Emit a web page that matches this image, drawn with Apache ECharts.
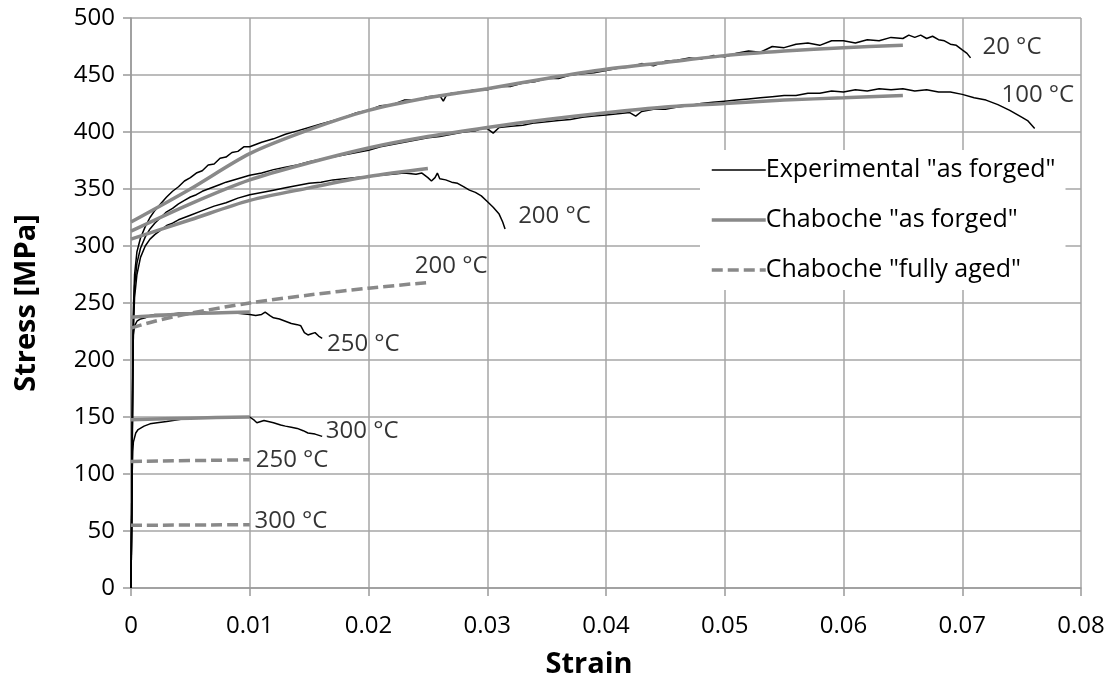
<!DOCTYPE html>
<html>
<head>
<meta charset="utf-8">
<script src="https://cdn.jsdelivr.net/npm/echarts@6/dist/echarts.min.js"></script>
<style>
html,body{margin:0;padding:0;background:#fff;}
#chart{width:1112px;height:692px;}
</style>
</head>
<body>
<div id="chart"></div>
<script>
// ---------- data (strain, stress MPa) ----------
const xTickLabels = ['0','0.01','0.02','0.03','0.04','0.05','0.06','0.07','0.08'];
const yTickLabels = ['0','50','100','150','200','250','300','350','400','450','500'];

const exp20 = [[0,0],[0.00005,60],[0.0001,130],[0.00015,200],[0.0002,245],[0.0003,275],[0.0005,295],[0.0008,307],[0.0012,317],[0.0016,325],[0.002,331],[0.0025,337],[0.003,343],[0.0035,348],[0.004,352],[0.0045,357],[0.005,360],[0.0055,364],[0.006,366],[0.0065,371],[0.007,372],[0.0075,377],[0.008,378],[0.0085,382],[0.009,383],[0.0095,387],[0.01,387],[0.011,391],[0.012,394],[0.013,398],[0.014,401],[0.015,404],[0.016,407],[0.017,410],[0.018,413],[0.019,417],[0.02,419],[0.021,423],[0.022,424],[0.023,428],[0.024,428],[0.025,431],[0.026,432],[0.0263,427],[0.0266,433],[0.027,434],[0.028,435],[0.029,437],[0.03,437],[0.031,440],[0.032,440],[0.033,443],[0.034,444],[0.035,447],[0.036,447],[0.037,450],[0.038,451],[0.039,452],[0.04,454],[0.041,456],[0.042,457],[0.043,460],[0.044,458],[0.0445,460],[0.045,462],[0.046,463],[0.047,465],[0.048,464],[0.049,467],[0.05,466],[0.051,469],[0.052,471],[0.053,470],[0.054,475],[0.055,474],[0.056,477],[0.057,478],[0.058,476],[0.059,480],[0.06,480],[0.061,478],[0.062,481],[0.063,480],[0.064,483],[0.065,482],[0.0655,485],[0.066,483],[0.0665,485],[0.067,482],[0.0675,484],[0.068,481],[0.0685,480],[0.069,477],[0.0695,476],[0.07,472],[0.0704,469],[0.0707,465]];
const exp100 = [[0,0],[0.00005,50],[0.0001,120],[0.00015,190],[0.0002,235],[0.0003,265],[0.0005,285],[0.0008,298],[0.0012,308],[0.0016,315],[0.002,320],[0.0025,325],[0.003,330],[0.0035,333],[0.004,337],[0.0045,340],[0.005,343],[0.0055,345],[0.006,348],[0.0065,350],[0.007,352],[0.0075,354],[0.008,356],[0.009,359],[0.01,362],[0.011,364],[0.012,367],[0.013,369],[0.014,371],[0.015,374],[0.016,376],[0.017,378],[0.018,380],[0.019,382],[0.02,384],[0.021,387],[0.022,389],[0.023,391],[0.024,393],[0.025,395],[0.026,396],[0.027,398],[0.028,400],[0.029,401],[0.0295,403],[0.03,403],[0.0305,399],[0.031,404],[0.032,405],[0.033,406],[0.034,408],[0.035,409],[0.036,410],[0.037,411],[0.038,413],[0.039,414],[0.04,415],[0.041,416],[0.042,417],[0.0425,414],[0.043,418],[0.044,420],[0.045,420],[0.046,422],[0.047,423],[0.048,425],[0.049,426],[0.05,427],[0.051,428],[0.052,429],[0.053,430],[0.054,431],[0.055,432],[0.056,432],[0.057,434],[0.058,434],[0.059,436],[0.06,435],[0.061,437],[0.062,436],[0.063,438],[0.064,437],[0.065,438],[0.066,436],[0.067,437],[0.068,435],[0.069,435],[0.07,433],[0.071,430],[0.072,428],[0.073,424],[0.074,419],[0.075,413],[0.0755,410],[0.0761,403]];
const exp200 = [[0,0],[0.00005,50],[0.0001,115],[0.00015,180],[0.0002,225],[0.0003,255],[0.0005,275],[0.0008,290],[0.0012,300],[0.0016,306],[0.002,310],[0.0025,314],[0.003,318],[0.0035,320],[0.004,323],[0.0045,325],[0.005,327],[0.006,331],[0.007,335],[0.008,338],[0.009,342],[0.01,345],[0.011,347],[0.012,349],[0.013,351],[0.014,353],[0.015,355],[0.016,356],[0.017,358],[0.018,359],[0.019,360],[0.02,361],[0.021,362],[0.022,363],[0.023,364],[0.024,363],[0.0245,364],[0.025,360],[0.0253,357],[0.0256,360],[0.0258,364],[0.026,359],[0.0265,358],[0.027,356],[0.0275,355],[0.028,352],[0.0285,349],[0.029,347],[0.0295,344],[0.03,339],[0.0305,334],[0.031,328],[0.0313,321],[0.0315,315]];
const exp250 = [[0,0],[0.00005,60],[0.0001,130],[0.00015,190],[0.0002,222],[0.0003,230],[0.0005,234],[0.0008,236],[0.0012,237],[0.0016,239],[0.002,240],[0.003,240],[0.004,241],[0.005,241],[0.006,242],[0.007,241],[0.008,241],[0.009,241],[0.01,240],[0.0105,239],[0.011,240],[0.0113,242],[0.0117,239],[0.012,237],[0.0125,236],[0.013,234],[0.0135,232],[0.014,231],[0.0143,230],[0.0146,224],[0.0149,222],[0.0152,223],[0.0155,224],[0.0158,221],[0.0161,219]];
const exp300 = [[0,0],[0.00005,50],[0.0001,100],[0.00015,120],[0.0002,128],[0.0004,136],[0.0006,139],[0.0011,142],[0.0016,144],[0.0022,145],[0.003,146],[0.0042,148],[0.005,149],[0.006,149],[0.007,150],[0.008,150],[0.009,150],[0.01,150],[0.0104,147],[0.0106,145],[0.0112,147],[0.012,145],[0.0126,143],[0.013,142],[0.0135,141],[0.014,140],[0.0145,138],[0.0149,136],[0.0155,135],[0.0161,133]];

const chab20 = [[0,321],[0.005,350],[0.01,381],[0.015,402],[0.02,419],[0.025,430],[0.03,438],[0.035,447],[0.04,455],[0.045,461],[0.05,467],[0.055,471],[0.06,474],[0.065,476]];
const chab100 = [[0,313],[0.005,337],[0.01,358],[0.015,373],[0.02,386],[0.025,396],[0.03,404],[0.035,411],[0.04,417],[0.045,422],[0.05,425],[0.055,428],[0.06,430],[0.065,432]];
const chab200 = [[0,306],[0.005,323],[0.01,340],[0.015,351],[0.02,361],[0.025,368]];
const chab250 = [[0,237.5],[0.005,240.5],[0.01,242]];
const chab300 = [[0,147.5],[0.005,149],[0.01,150]];

const aged200 = [[0,228],[0.002,234],[0.005,241],[0.01,250],[0.015,257],[0.02,263],[0.025,268]];
const aged250 = [[0,111],[0.01,112.5]];
const aged300 = [[0,55],[0.01,55.5]];

const curveLabels = [
  [0.0717, 474, '20 °C'],
  [0.0733, 432, '100 °C'],
  [0.0326, 326, '200 °C'],
  [0.0239, 282, '200 °C'],
  [0.0165, 214, '250 °C'],
  [0.0164, 138, '300 °C'],
  [0.0105, 112, '250 °C'],
  [0.0104, 59, '300 °C']
];

const NAME_EXP = 'Experimental "as forged"';
const NAME_CHAB = 'Chaboche "as forged"';
const NAME_AGED = 'Chaboche "fully aged"';

// ---------- chart ----------
const FONT = '"Open Sans", "Noto Sans", sans-serif';
const GRAY = '#898989';
const chart = echarts.init(document.getElementById('chart'), null, {renderer: 'canvas'});

function expSeries(d) {
  return {name: NAME_EXP, type: 'line', data: d, showSymbol: false, symbol: 'none',
    lineStyle: {color: '#000', width: 1.5}, itemStyle: {color: '#000'}, z: 2, silent: true};
}
function chabSeries(d) {
  return {name: NAME_CHAB, type: 'line', data: d, showSymbol: false, symbol: 'none', smooth: 0.3,
    lineStyle: {color: GRAY, width: 3.5}, itemStyle: {color: GRAY}, z: 3, silent: true};
}
function agedSeries(d) {
  return {name: NAME_AGED, type: 'line', data: d, showSymbol: false, symbol: 'none', smooth: 0.3,
    lineStyle: {color: GRAY, width: 3.5, type: [11, 5]}, itemStyle: {color: GRAY}, z: 3, silent: true};
}

const option = {
  animation: false,
  backgroundColor: '#fff',
  grid: {left: 131, right: 31, top: 18, bottom: 104},
  legend: {
    data: [
      {name: NAME_EXP, lineStyle: {color: '#000', width: 1.5}},
      {name: NAME_CHAB, lineStyle: {color: GRAY, width: 3.5}},
      {name: NAME_AGED, lineStyle: {color: GRAY, width: 3.5, type: [11, 5]}}
    ],
    orient: 'vertical',
    left: 700, top: 150,
    backgroundColor: '#fff',
    padding: [6, 10, 6, 10],
    itemWidth: 54, itemHeight: 14, itemGap: 22,
    itemStyle: {opacity: 0, borderWidth: 0},
    textStyle: {fontFamily: FONT, fontSize: 25, color: '#000', padding: [0, 0, 0, -5], lineHeight: 28},
    selectedMode: false
  },
  xAxis: {
    type: 'value', min: 0, max: 0.08, interval: 0.01,
    name: 'Strain', nameLocation: 'middle', nameGap: 62,
    nameTextStyle: {fontFamily: FONT, fontSize: 29, fontWeight: 'bold', color: '#000', padding: [0, 34, 0, 0]},
    axisLine: {show: true, onZero: false, lineStyle: {color: '#999', width: 1.5}},
    axisTick: {show: true, length: 8, lineStyle: {color: '#999', width: 1.5}},
    axisLabel: {fontFamily: FONT, fontSize: 24, color: '#000', margin: 26,
      formatter: v => xTickLabels[Math.round(v / 0.01)]},
    splitLine: {show: true, lineStyle: {color: '#a6a6a6', width: 1.5}}
  },
  yAxis: {
    type: 'value', min: 0, max: 500, interval: 50,
    name: 'Stress [MPa]', nameLocation: 'middle', nameGap: 90,
    nameTextStyle: {fontFamily: FONT, fontSize: 29, fontWeight: 'bold', color: '#000'},
    axisLine: {show: true, lineStyle: {color: '#999', width: 1.5}},
    axisTick: {show: true, length: 8, lineStyle: {color: '#999', width: 1.5}},
    axisLabel: {fontFamily: FONT, fontSize: 24, color: '#000', margin: 16,
      formatter: v => yTickLabels[Math.round(v / 50)]},
    splitLine: {show: true, lineStyle: {color: '#a6a6a6', width: 1.5}}
  },
  series: [
    expSeries(exp20), expSeries(exp100), expSeries(exp200), expSeries(exp250), expSeries(exp300),
    chabSeries(chab20), chabSeries(chab100), chabSeries(chab200), chabSeries(chab250), chabSeries(chab300),
    agedSeries(aged200), agedSeries(aged250), agedSeries(aged300),
    {
      name: 'labels', type: 'scatter', data: curveLabels, symbolSize: 0, z: 4, silent: true,
      label: {show: true, position: 'right', distance: 0, formatter: p => p.data[2],
        fontFamily: FONT, fontSize: 24, color: '#000'}
    }
  ]
};
chart.setOption(option);
</script>
</body>
</html>
